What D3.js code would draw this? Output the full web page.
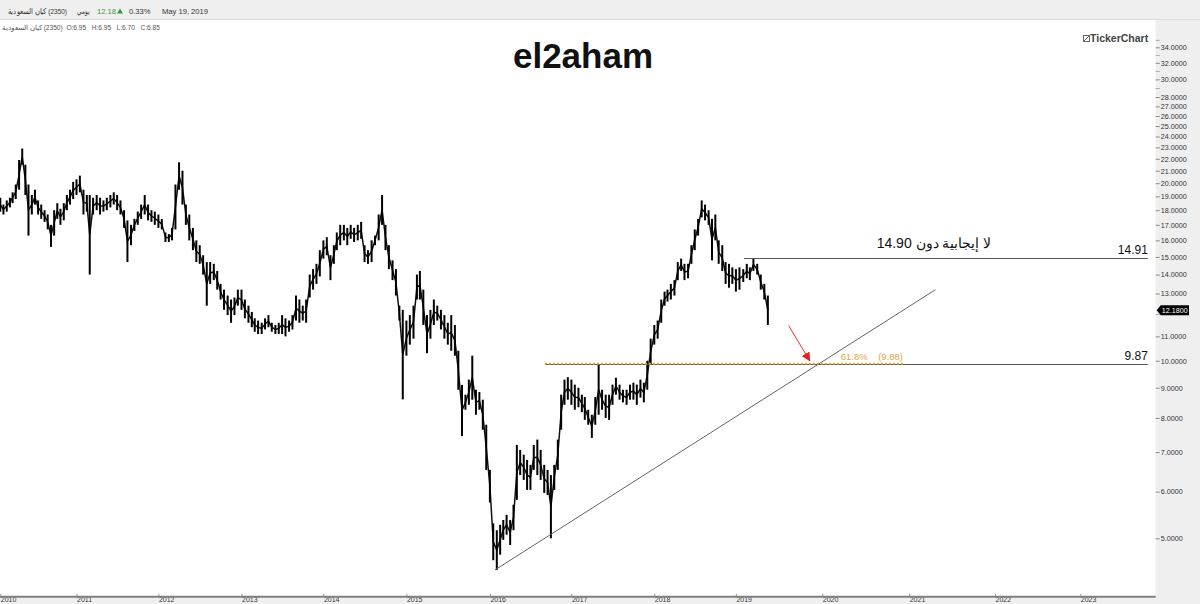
<!DOCTYPE html>
<html>
<head>
<meta charset="utf-8">
<script src="https://cdn.jsdelivr.net/npm/d3@7"></script>
<style>
  body { margin: 0; background: #fff; }
  svg { display: block; font-family: "Liberation Sans", Arial, sans-serif; }
</style>
</head>
<body>
<div id="chart"></div>
<script>
// x axis: year marks (trading-day compressed history, calendar days for the future)
var yearLabels = [2010, 2011, 2012, 2013, 2014, 2015, 2016, 2017, 2018, 2019, 2020, 2021, 2022, 2023, 2024];
var yearPixels = [0.3, 76.5, 158.4, 241.5, 323.4, 406.4, 489.9, 571.4, 654.3, 735.9, 822.3, 909.2, 995, 1080.3, 1165.6];

// price axis ticks
var yTickValues = [34, 32, 30, 28, 27, 26, 25, 24, 23, 22, 21, 20, 19, 18, 17, 16, 15, 14, 13, 11, 10, 9, 8, 7, 6, 5];
var yMinorTicks = [35, 33, 31, 29, 12];

// half-month bars, 1st and 16th of each month, Jan 2010 .. May 2019
var firstMonth = "2010-01-01", afterLastMonth = "2019-06-01";
var lows = [
  17.9,17.7,17.9,18.2,18.5,18.8,19.5,21.5,19.1,16.3,17.7,18.4, 17.7,17.4,17.2,16.7,15.6,16.3,17.4,17.0,17.3,18.0,18.4,18.8,
  19.1,19.3,17.7,17.9,14.0,17.7,18.0,17.7,17.9,18.0,18.2,18.4, 18.0,17.7,16.8,14.7,15.7,16.6,17.0,17.4,17.7,17.3,17.2,17.0,
  16.8,16.7,15.9,15.9,16.0,16.7,19.5,18.4,17.0,16.0,15.4,14.7, 14.6,14.0,12.4,13.5,13.7,13.2,12.7,12.2,11.95,11.6,11.95,12.4,
  12.2,11.8,11.6,11.4,11.2,11.1,11.1,11.3,11.4,11.2,11.1,11.1, 11.1,11.0,11.2,11.3,11.7,11.6,11.7,11.6,12.8,13.2,13.5,13.9,
  14.9,15.1,13.7,14.6,15.4,15.7,16.0,15.7,16.1,15.9,16.0,16.1, 14.7,14.6,14.7,15.7,16.0,17.0,15.4,14.3,13.7,12.9,11.7,8.6,
  10.2,10.65,10.9,12.7,12.7,11.5,10.3,10.9,11.5,11.7,11.3,10.9, 10.65,10.4,10.2,8.93,7.45,8.26,8.42,8.59,8.1,8.26,7.64,6.53,
  5.75,4.59,4.42,4.69,4.97,5.07,4.87,5.16,5.81,6.4,6.28,6.04, 6.04,6.53,6.4,6.28,5.97,5.92,5.0,6.04,6.53,7.64,8.42,8.59,
  8.42,8.26,8.34,8.18,7.94,7.79,7.4,7.79,8.1,8.26,8.0,7.94, 8.42,8.76,8.59,8.5,8.42,8.59,8.59,8.42,8.66,8.5,8.93,9.85,
  10.65,10.9,11.6,12.4,12.6,12.7,12.9,13.7,14.2,13.7,13.8,14.6, 15.4,16.3,17.5,17.3,17.0,14.8,16.0,14.6,14.2,13.5,13.3,13.5,
  13.1,13.2,13.6,13.8,13.7,14.2,14.0,13.2,12.7,11.5
];
var highs = [
  18.9,18.4,18.7,18.9,19.3,19.9,21.9,22.9,21.5,19.9,19.1,19.5, 18.7,18.4,18.0,17.7,17.0,18.0,18.5,18.1,18.5,19.1,19.5,20.1,
  20.3,20.6,19.5,19.1,19.1,18.9,19.1,18.9,18.7,18.9,19.1,19.3, 19.1,18.7,18.0,17.3,17.0,17.4,17.9,18.4,19.1,18.4,18.0,17.9,
  17.7,17.4,16.5,16.4,16.8,19.9,21.7,21.0,18.4,17.7,16.8,16.0, 15.7,15.1,14.7,14.7,14.6,14.2,13.5,13.2,12.9,12.7,12.8,13.2,
  13.2,12.7,12.4,12.1,11.8,11.7,11.6,11.8,11.95,11.6,11.5,11.6, 11.95,11.8,11.7,11.95,12.9,12.7,12.4,12.7,14.0,14.3,14.6,15.4,
  16.0,16.2,15.1,15.7,16.5,17.0,17.0,16.8,17.0,16.8,17.0,17.2, 15.7,15.4,16.0,16.3,17.7,19.1,17.0,15.7,14.8,14.3,12.4,12.2,
  11.7,11.95,12.4,14.0,14.2,13.2,11.95,12.2,12.7,12.4,12.2,11.95, 11.6,11.95,11.5,10.4,9.1,8.76,9.29,10.2,8.93,8.85,8.59,7.79,
  6.53,5.30,5.16,5.27,5.37,5.48,5.37,5.70,7.2,7.06,6.93,6.79, 6.66,7.2,7.35,7.06,6.66,6.53,6.4,6.66,7.35,8.76,9.29,9.38,
  9.29,9.11,9.0,8.76,8.68,8.26,8.1,8.68,9.85,8.93,8.76,8.76, 9.11,9.36,9.11,8.93,8.93,9.11,9.18,9.11,9.29,9.18,10.0,10.9,
  11.5,11.7,12.7,13.1,13.2,13.5,13.7,14.7,14.9,14.6,14.6,15.7, 16.7,17.4,18.7,18.4,18.0,17.4,17.7,16.0,15.7,14.7,14.6,14.4,
  14.3,14.4,14.3,14.6,14.4,14.9,14.6,14.0,13.5,12.9
];
var lastClose = 12.18;

// last bar summary line
var ohlcLabels = ["O:6.95", "H:6.95", "L:6.70", "C:6.85"];

// drawings on the chart
var levelValues = [14.91, 9.87];
var levelStarts = ["2019-02-04", "2016-09-04"];
var levelEnd = "2023-10-17";
var fibValue = 9.88;
var fibRange = ["2016-09-04", "2020-12-06"];
var trendDates = ["2016-01-24", "2021-04-23"];
var trendValues = [4.42, 13.2];
var arrowDates = ["2019-08-12", "2019-11-09"];
var arrowValues = [11.47, 10.0];

var width = 1200, height = 604;
var plotRight = 1155.7, plotTop = 20, axisY = 596.8;

var svg = d3.select('#chart').append('svg').attr("width", width).attr("height", height);
var parse = d3.utcParse("%Y-%m-%d");

// period dates
var periodDates = [];
d3.utcMonth.range(parse(firstMonth), parse(afterLastMonth)).forEach(function (m) {
    periodDates.push(m, d3.utcDay.offset(m, 15));
});
var data = periodDates.map(function (d, i) { return { date: d, low: lows[i], high: highs[i] }; });

// scales
var yearDates = yearLabels.map(function (y) { return new Date(Date.UTC(y, 0, 1)); });
var x = d3.scaleUtc().domain(yearDates).range(yearPixels);
var y = d3.scaleLog().domain([5, 34]).range([538.3, 47.3]);

// backgrounds
svg.append("rect").attr("x", 0).attr("y", 0).attr("width", width).attr("height", height).attr("fill", "#fff");
svg.append("rect").attr("x", plotRight).attr("y", plotTop).attr("width", width - plotRight).attr("height", height - plotTop).attr("fill", "#efefef");
svg.append("rect").attr("x", 0).attr("y", axisY).attr("width", width).attr("height", height - axisY).attr("fill", "#efefef");
svg.append("rect").attr("x", 0).attr("y", 0).attr("width", width).attr("height", plotTop).attr("fill", "#efefef");
svg.append("line").attr("x1", 0).attr("x2", width).attr("y1", plotTop - 0.5).attr("y2", plotTop - 0.5).attr("stroke", "#dcdcdc");

// header (LRM keeps the symbol code to the right of the Arabic name)
var symbolName = "كيان السعودية\u200E (2350)";
var head = svg.append("g").attr("font-size", "7.6px").attr("fill", "#333");
head.append("text").attr("x", 8).attr("y", 14).attr("textLength", 59).attr("lengthAdjust", "spacingAndGlyphs").text(symbolName);
head.append("text").attr("x", 77).attr("y", 14).attr("textLength", 12).attr("lengthAdjust", "spacingAndGlyphs").text("يومي");
head.append("text").attr("x", 97).attr("y", 14).attr("fill", "#3a9a3a").text("12.18");
head.append("path").attr("d", "M117,13.5 L120,8.5 L123,13.5 Z").attr("fill", "#2f9a2f");
head.append("text").attr("x", 129).attr("y", 14).text("0.33%");
head.append("text").attr("x", 162).attr("y", 14).text("May 19, 2019");
svg.append("text").attr("x", 2).attr("y", 29.5).attr("font-size", "6.6px").attr("fill", "#555")
    .attr("xml:space", "preserve")
    .text(symbolName + "  " + ohlcLabels.join("   "));

// title and logo
svg.append("text").attr("x", 583).attr("y", 68).attr("text-anchor", "middle")
    .attr("font-size", "35px").attr("font-weight", "bold").attr("fill", "#111").text("el2aham");
svg.append("rect").attr("x", 1083.5).attr("y", 35.5).attr("width", 6).attr("height", 6).attr("fill", "none").attr("stroke", "#666");
svg.append("path").attr("d", "M1084,41 L1089,36").attr("stroke", "#666");
svg.append("text").attr("x", 1090).attr("y", 42).attr("font-size", "10.5px").attr("font-weight", "bold").attr("fill", "#444").text("TickerChart");

// right price axis
var yAxis = d3.axisRight(y).tickValues(yTickValues).tickFormat(d3.format(".4f")).tickSize(4).tickPadding(1);
var yAxisG = svg.append("g").attr("transform", "translate(" + plotRight + ",0)").call(yAxis);
yAxisG.select(".domain").remove();
yAxisG.selectAll("line").attr("stroke", "#888");
yAxisG.selectAll("text").attr("font-size", "7.2px").attr("fill", "#333").attr("font-family", "Liberation Sans, Arial, sans-serif");
var yMinor = svg.append("g").attr("transform", "translate(" + plotRight + ",0)")
    .call(d3.axisRight(y).tickValues(yMinorTicks).tickFormat("").tickSize(4));
yMinor.select(".domain").remove();
yMinor.selectAll("line").attr("stroke", "#aaa");

// bottom time axis
var xAxis = d3.axisBottom(x).tickValues(yearDates.slice(0, 14)).tickFormat(d3.utcFormat("%Y")).tickSizeInner(-3).tickSizeOuter(0).tickPadding(1);
var xAxisG = svg.append("g").attr("transform", "translate(0," + axisY + ")").call(xAxis);
xAxisG.select(".domain").remove();
xAxisG.selectAll("line").attr("stroke", "#999");
xAxisG.selectAll("text").attr("text-anchor", "start").attr("dy", "0.62em").attr("font-size", "7px").attr("fill", "#333").attr("font-family", "Liberation Sans, Arial, sans-serif");
svg.append("line").attr("x1", 0).attr("x2", plotRight).attr("y1", axisY).attr("y2", axisY).attr("stroke", "#808080").attr("stroke-width", 2);

// price bars
var chart = svg.append("g");
chart.append("path")
    .datum(data)
    .attr("fill", "none").attr("stroke", "#111").attr("stroke-width", 1.5)
    .attr("d", d3.line()
        .x(function (d) { return x(d.date); })
        .y(function (d) { return y(Math.sqrt(d.low * d.high)); }));
chart.selectAll("line.bar")
    .data(data)
    .enter()
    .append("line")
    .attr("class", "bar")
    .attr("x1", function (d) { return x(d.date); })
    .attr("x2", function (d) { return x(d.date); })
    .attr("y1", function (d) { return y(d.high); })
    .attr("y2", function (d) { return y(d.low); })
    .attr("stroke", "#000").attr("stroke-width", 2);

// trend line
svg.append("line")
    .attr("x1", x(parse(trendDates[0]))).attr("y1", y(trendValues[0]))
    .attr("x2", x(parse(trendDates[1]))).attr("y2", y(trendValues[1]))
    .attr("stroke", "#666").attr("stroke-width", 1);

// horizontal levels
levelValues.forEach(function (v, i) {
    svg.append("line")
        .attr("x1", x(parse(levelStarts[i]))).attr("x2", x(parse(levelEnd)))
        .attr("y1", Math.round(y(v)) + 0.5).attr("y2", Math.round(y(v)) + 0.5)
        .attr("stroke", "#555").attr("stroke-width", 1);
    svg.append("text")
        .attr("x", x(parse(levelEnd))).attr("y", y(v) - 4)
        .attr("text-anchor", "end").attr("font-size", "12px").attr("fill", "#111")
        .text(d3.format(".2f")(v));
});

// fibonacci level
svg.append("line")
    .attr("x1", x(parse(fibRange[0]))).attr("x2", x(parse(fibRange[1])))
    .attr("y1", y(fibValue)).attr("y2", y(fibValue))
    .attr("stroke", "#e0a030").attr("stroke-width", 2).attr("stroke-dasharray", "2,2");
svg.append("text")
    .attr("x", x(parse(fibRange[1]))).attr("y", y(fibValue) - 4)
    .attr("text-anchor", "end").attr("font-size", "9.5px").attr("fill", "#e4a54e")
    .attr("xml:space", "preserve")
    .text("61.8%    (" + d3.format(".2f")(fibValue) + ")");

// comment on resistance
svg.append("text")
    .attr("x", 934).attr("y", y(levelValues[0]) - 10)
    .attr("text-anchor", "middle").attr("font-size", "14px").attr("fill", "#111")
    .text("لا إيجابية دون 14.90");

// red arrow
svg.append("defs").append("marker")
    .attr("id", "arrowhead").attr("viewBox", "0 0 10 10").attr("refX", 9).attr("refY", 5)
    .attr("markerWidth", 9).attr("markerHeight", 9).attr("markerUnits", "userSpaceOnUse").attr("orient", "auto")
    .append("path").attr("d", "M0,0 L10,5 L0,10 Z").attr("fill", "#e82020");
svg.append("line")
    .attr("x1", x(parse(arrowDates[0]))).attr("y1", y(arrowValues[0]))
    .attr("x2", x(parse(arrowDates[1]))).attr("y2", y(arrowValues[1]))
    .attr("stroke", "#e83030").attr("stroke-width", 1).attr("marker-end", "url(#arrowhead)");

// last price tag
var ty = y(lastClose);
svg.append("path")
    .attr("d", "M" + (plotRight + 1) + "," + ty + " L" + (plotRight + 5) + "," + (ty - 5) + " L1189," + (ty - 5) + " L1189," + (ty + 5) + " L" + (plotRight + 5) + "," + (ty + 5) + " Z")
    .attr("fill", "#000");
svg.append("text").attr("x", plotRight + 6).attr("y", ty + 2.6).attr("font-size", "7.2px").attr("fill", "#fff")
    .text(d3.format(".4f")(lastClose));
</script>
</body>
</html>
